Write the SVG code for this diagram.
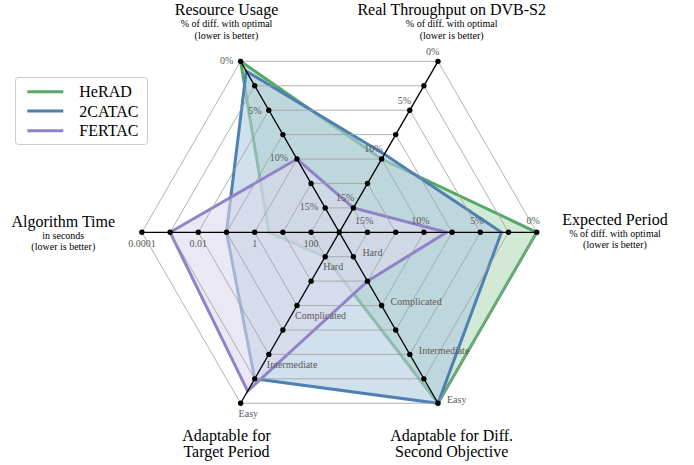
<svg xmlns="http://www.w3.org/2000/svg" width="694" height="465" viewBox="0 0 694 465">
<style>
.grid{fill:none;stroke:#a0a0a0;stroke-width:0.8}
.axis{stroke:#000;stroke-width:1.3}
.dot{fill:#000}
.tick{font-family:"Liberation Serif","Times New Roman",serif;font-size:10px;fill:#5a5a5a}
.title{font-family:"Liberation Serif","Times New Roman",serif;font-size:16px;fill:#000;text-anchor:middle}
.sub{font-family:"Liberation Serif","Times New Roman",serif;font-size:10px;fill:#000;text-anchor:middle}
.leg{font-family:"Liberation Serif","Times New Roman",serif;font-size:16px;fill:#000}
.mid{text-anchor:middle}
.line{fill:none;stroke-width:3;stroke-linejoin:miter;stroke-miterlimit:10}
.fill{fill-opacity:0.6}
</style>
<rect x="0" y="0" width="694" height="465" fill="#fff"/>

<g id="series">
  <g id="herad">
    <polygon class="fill" points="536.7,232.3 381.6,159.03 240.6,61.35 268.8,232.3 325.2,256.72 438.0,403.25" fill="#b4dabb"/>
    <polygon class="line" points="536.7,232.3 381.6,159.03 240.6,61.35 268.8,232.3 325.2,256.72 438.0,403.25" stroke="#55a868"/>
  </g>
  <g id="catac">
    <polygon class="fill" points="501.45,232.3 384.42,154.15 246.24,71.11 226.5,232.3 254.7,378.83 438.0,403.25" fill="#b1cbdf"/>
    <polygon class="line" points="501.45,232.3 384.42,154.15 246.24,71.11 226.5,232.3 254.7,378.83 438.0,403.25" stroke="#4f80b3"/>
  </g>
  <g id="fertac">
    <polygon class="fill" points="446.46,232.3 353.4,207.88 297.0,159.03 170.1,232.3 247.65,391.04 367.5,281.14" fill="#dcd9ed"/>
    <polygon class="line" points="446.46,232.3 353.4,207.88 297.0,159.03 170.1,232.3 247.65,391.04 367.5,281.14" stroke="#9182c8"/>
  </g>
</g>

<g id="grid" class="grid">
  <polygon points="367.5,232.3 353.4,207.88 325.2,207.88 311.1,232.3 325.2,256.72 353.4,256.72"/>
  <polygon points="395.7,232.3 367.5,183.46 311.1,183.46 282.9,232.3 311.1,281.14 367.5,281.14"/>
  <polygon points="423.9,232.3 381.6,159.03 297.0,159.03 254.7,232.3 297.0,305.57 381.6,305.57"/>
  <polygon points="452.1,232.3 395.7,134.61 282.9,134.61 226.5,232.3 282.9,329.99 395.7,329.99"/>
  <polygon points="480.3,232.3 409.8,110.19 268.8,110.19 198.3,232.3 268.8,354.41 409.8,354.41"/>
  <polygon points="508.5,232.3 423.9,85.77 254.7,85.77 170.1,232.3 254.7,378.83 423.9,378.83"/>
  <polygon points="536.7,232.3 438.0,61.35 240.6,61.35 141.9,232.3 240.6,403.25 438.0,403.25"/>
</g>

<g id="axes">
  <g class="axis">
    <line x1="339.3" y1="232.3" x2="536.7" y2="232.3"/>
    <line x1="339.3" y1="232.3" x2="438.0" y2="61.35"/>
    <line x1="339.3" y1="232.3" x2="240.6" y2="61.35"/>
    <line x1="339.3" y1="232.3" x2="141.9" y2="232.3"/>
    <line x1="339.3" y1="232.3" x2="240.6" y2="403.25"/>
    <line x1="339.3" y1="232.3" x2="438.0" y2="403.25"/>
  </g>
  <g class="dot">
    <circle cx="339.3" cy="232.3" r="2.7"/>
    <circle cx="367.5" cy="232.3" r="2.7"/><circle cx="395.7" cy="232.3" r="2.7"/><circle cx="423.9" cy="232.3" r="2.7"/><circle cx="452.1" cy="232.3" r="2.7"/><circle cx="480.3" cy="232.3" r="2.7"/><circle cx="508.5" cy="232.3" r="2.7"/><circle cx="536.7" cy="232.3" r="2.7"/>
    <circle cx="353.4" cy="207.88" r="2.7"/><circle cx="367.5" cy="183.46" r="2.7"/><circle cx="381.6" cy="159.03" r="2.7"/><circle cx="395.7" cy="134.61" r="2.7"/><circle cx="409.8" cy="110.19" r="2.7"/><circle cx="423.9" cy="85.77" r="2.7"/><circle cx="438.0" cy="61.35" r="2.7"/>
    <circle cx="325.2" cy="207.88" r="2.7"/><circle cx="311.1" cy="183.46" r="2.7"/><circle cx="297.0" cy="159.03" r="2.7"/><circle cx="282.9" cy="134.61" r="2.7"/><circle cx="268.8" cy="110.19" r="2.7"/><circle cx="254.7" cy="85.77" r="2.7"/><circle cx="240.6" cy="61.35" r="2.7"/>
    <circle cx="311.1" cy="232.3" r="2.7"/><circle cx="282.9" cy="232.3" r="2.7"/><circle cx="254.7" cy="232.3" r="2.7"/><circle cx="226.5" cy="232.3" r="2.7"/><circle cx="198.3" cy="232.3" r="2.7"/><circle cx="170.1" cy="232.3" r="2.7"/><circle cx="141.9" cy="232.3" r="2.7"/>
    <circle cx="325.2" cy="256.72" r="2.7"/><circle cx="311.1" cy="281.14" r="2.7"/><circle cx="297.0" cy="305.57" r="2.7"/><circle cx="282.9" cy="329.99" r="2.7"/><circle cx="268.8" cy="354.41" r="2.7"/><circle cx="254.7" cy="378.83" r="2.7"/><circle cx="240.6" cy="403.25" r="2.7"/>
    <circle cx="353.4" cy="256.72" r="2.7"/><circle cx="367.5" cy="281.14" r="2.7"/><circle cx="381.6" cy="305.57" r="2.7"/><circle cx="395.7" cy="329.99" r="2.7"/><circle cx="409.8" cy="354.41" r="2.7"/><circle cx="423.9" cy="378.83" r="2.7"/><circle cx="438.0" cy="403.25" r="2.7"/>
  </g>
</g>

<g id="ticks">
  <text class="tick mid" x="533.2" y="223.5">0%</text>
  <text class="tick mid" x="476.8" y="223.5">5%</text>
  <text class="tick mid" x="420.5" y="223.5">10%</text>
  <text class="tick mid" x="364.2" y="223.5">15%</text>
  <text class="tick mid" x="432.6" y="55.2">0%</text>
  <text class="tick mid" x="404.3" y="103.5">5%</text>
  <text class="tick mid" x="373.5" y="151.8">10%</text>
  <text class="tick mid" x="345.2" y="200.8">15%</text>
  <text class="tick mid" x="226.7" y="63.5">0%</text>
  <text class="tick mid" x="255.0" y="113.5">5%</text>
  <text class="tick mid" x="279.0" y="161.2">10%</text>
  <text class="tick mid" x="309.0" y="210.2">15%</text>
  <text class="tick mid" x="141.9" y="247">0.0001</text>
  <text class="tick mid" x="198.3" y="247">0.01</text>
  <text class="tick mid" x="254.7" y="247">1</text>
  <text class="tick mid" x="311.1" y="247">100</text>
  <text class="tick" x="323.2" y="270.2">Hard</text>
  <text class="tick" x="295.0" y="319.1">Complicated</text>
  <text class="tick" x="266.8" y="367.9">Intermediate</text>
  <text class="tick" x="238.6" y="416.8">Easy</text>
  <text class="tick" x="362.4" y="256.2">Hard</text>
  <text class="tick" x="390.6" y="305.1">Complicated</text>
  <text class="tick" x="418.8" y="353.9">Intermediate</text>
  <text class="tick" x="447.0" y="402.8">Easy</text>
</g>

<g id="labels">
  <text class="title" x="226.5" y="15">Resource Usage</text>
  <text class="sub" x="226.5" y="27">% of diff. with optimal</text>
  <text class="sub" x="226.5" y="38.5">(lower is better)</text>
  <text class="title" x="451.7" y="15">Real Throughput on DVB-S2</text>
  <text class="sub" x="451.7" y="27">% of diff. with optimal</text>
  <text class="sub" x="451.7" y="38.5">(lower is better)</text>
  <text class="title" x="615" y="225">Expected Period</text>
  <text class="sub" x="615" y="236.8">% of diff. with optimal</text>
  <text class="sub" x="615" y="248.2">(lower is better)</text>
  <text class="title" x="63.3" y="226.5">Algorithm Time</text>
  <text class="sub" x="63.3" y="239">in seconds</text>
  <text class="sub" x="63.3" y="249.5">(lower is better)</text>
  <text class="title" x="226.5" y="440.5">Adaptable for</text>
  <text class="title" x="226.5" y="457">Target Period</text>
  <text class="title" x="451.7" y="440.5">Adaptable for Diff.</text>
  <text class="title" x="451.7" y="457">Second Objective</text>
</g>

<g id="legend">
  <rect x="15.5" y="77.5" width="132" height="67" rx="3" fill="#fff" fill-opacity="0.8" stroke="#cccccc" stroke-width="1"/>
  <line x1="27.3" y1="91.7" x2="63.3" y2="91.7" stroke="#55a868" stroke-width="3"/>
  <line x1="27.3" y1="111" x2="63.3" y2="111" stroke="#4f80b3" stroke-width="3"/>
  <line x1="27.3" y1="130.7" x2="63.3" y2="130.7" stroke="#9182c8" stroke-width="3"/>
  <text class="leg" x="79.3" y="97.3">HeRAD</text>
  <text class="leg" x="79.3" y="116.6">2CATAC</text>
  <text class="leg" x="79.3" y="136.2">FERTAC</text>
</g>
</svg>
